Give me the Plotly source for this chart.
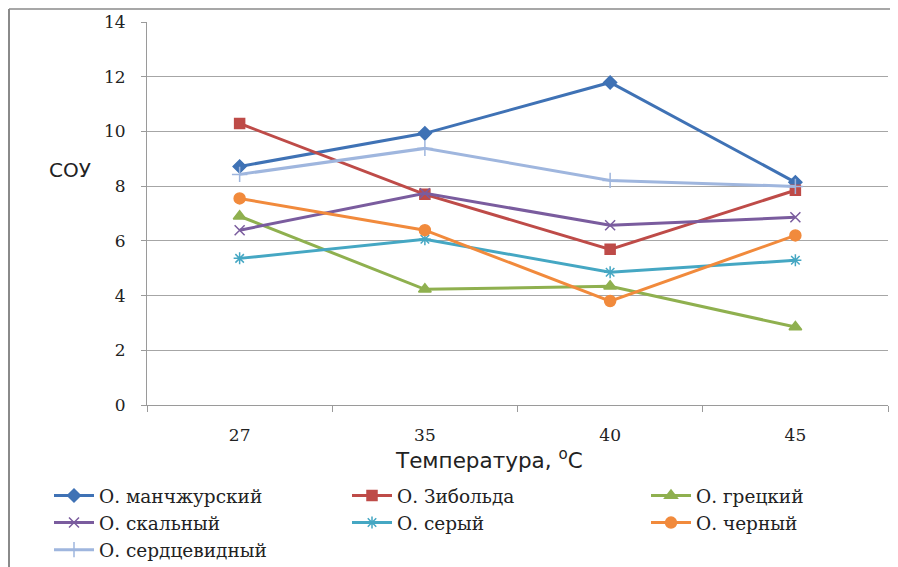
import plotly.graph_objects as go

temps = ["27", "35", "40", "45"]
series_names = ["О. манчжурский", "О. Зибольда", "О. грецкий", "О. скальный",
                "О. серый", "О. черный", "О. сердцевидный"]
manchurian = [8.72, 9.93, 11.79, 8.14]
siebold = [10.29, 7.70, 5.69, 7.85]
walnut = [6.90, 4.23, 4.34, 2.85]
rock = [6.39, 7.74, 6.57, 6.86]
grey = [5.36, 6.06, 4.85, 5.29]
black = [7.55, 6.39, 3.80, 6.20]
heart = [8.43, 9.38, 8.21, 7.99]
y_ticks = [0, 2, 4, 6, 8, 10, 12, 14]

values = [manchurian, siebold, walnut, rock, grey, black, heart]
colors = ["#3F72B5", "#BE4B48", "#8FB04F", "#7A5C9E", "#45A7C3", "#F18A3C", "#9FB6DE"]
symbols = ["diamond", "square", "triangle-up", "x-thin-open", "asterisk-open", "circle", "cross-thin-open"]
sizes = [10, 10, 11, 10, 10, 11, 11]
legend_ids = ["legend", "legend2", "legend3", "legend", "legend2", "legend3", "legend"]

fig = go.Figure()
for name, vals, col, sym, sz, lg in zip(series_names, values, colors, symbols, sizes, legend_ids):
    fig.add_trace(go.Scatter(
        x=temps, y=vals, name=name, mode="lines+markers", legend=lg,
        line=dict(color=col, width=3),
        marker=dict(symbol=sym, size=sz, color=col, line=dict(color=col, width=1.5)),
    ))

OFF = 8  # page body margin
W, H = 898 - OFF, 567 - OFF
L, R, T, B = 147 - OFF, 888 - OFF, 22 - OFF, 405 - OFF
def px(x):  # screen px -> paper
    return (x - OFF - L) / (R - L)
def py(y):
    return (B - (y - OFF)) / (B - T)

def leg(xs):
    return dict(orientation="v", x=px(xs), y=py(477), xanchor="left", yanchor="top",
                font=dict(family="DejaVu Serif", size=18.5, color="#222"),
                itemwidth=40, traceorder="normal", bgcolor="rgba(0,0,0,0)")

fig.update_layout(
    width=W, height=H,
    margin=dict(l=L, r=W - R, t=T, b=H - B, autoexpand=False),
    paper_bgcolor="white", plot_bgcolor="white",
    showlegend=True,
    legend=leg(49), legend2=leg(347), legend3=leg(646),
    font=dict(family="Liberation Serif", size=16, color="#222"),
)
fig.update_xaxes(
    type="category", showgrid=False, showline=True, linecolor="#9a9a9a", linewidth=1,
    ticks="outside", tickson="boundaries", ticklen=6, tickcolor="#9a9a9a",
    tickfont=dict(family="DejaVu Serif", size=17, color="#222"),
    ticklabelstandoff=15, range=[-0.5, 3.5],
)
fig.update_yaxes(
    range=[0, 14], tickvals=y_ticks, showgrid=True, gridcolor="#a6a6a6", gridwidth=1,
    showline=True, linecolor="#9a9a9a", linewidth=1, ticks="outside", ticklen=5,
    tickcolor="#9a9a9a", zeroline=False,
    tickfont=dict(family="DejaVu Serif", size=17, color="#222"),
    ticklabelstandoff=12,
)
fig.add_annotation(text="СОУ", xref="paper", yref="paper", x=px(70), y=py(170),
                   xanchor="center", yanchor="middle",
                   showarrow=False, font=dict(family="DejaVu Sans", size=20, color="#222"))
fig.add_annotation(text="Температура, <sup>o</sup>C", xref="paper", yref="paper",
                   x=px(489), y=py(459), xanchor="center", yanchor="middle", showarrow=False,
                   font=dict(family="DejaVu Sans", size=21.5, color="#222"))
fig.add_shape(type="line", xref="paper", yref="paper", x0=px(9), x1=px(9), y0=py(9), y1=py(567),
              line=dict(color="#8a8a8a", width=2))
fig.add_shape(type="line", xref="paper", yref="paper", x0=px(9), x1=px(898), y0=py(9), y1=py(9),
              line=dict(color="#8a8a8a", width=1.5))

fig.write_html("out.html")
